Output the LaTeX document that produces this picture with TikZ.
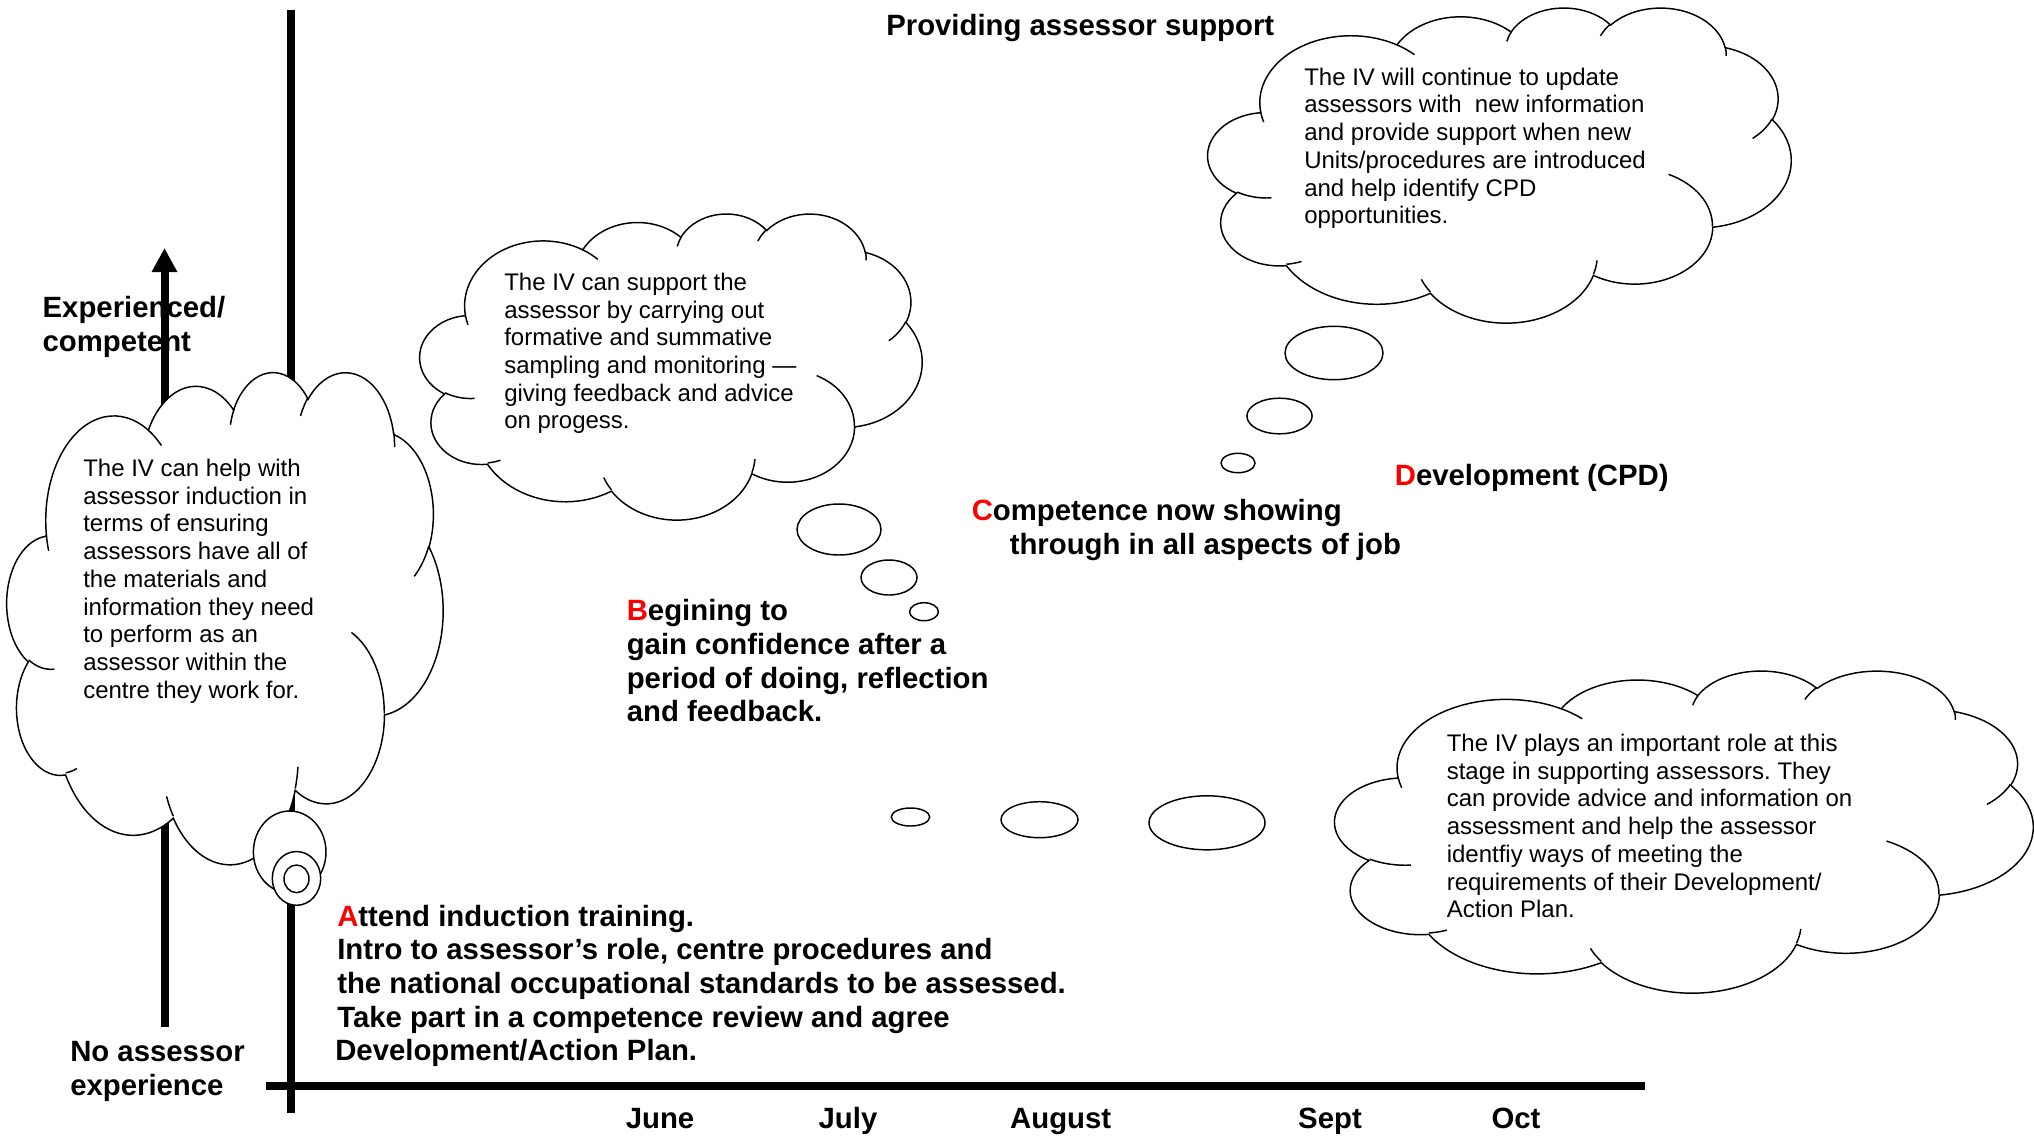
\documentclass[tikz,border=0pt]{standalone}
\usepackage{fontspec}
\setmainfont{Liberation Sans}
\usetikzlibrary{arrows.meta}
\frenchspacing

\tikzset{
  axisline/.style={line width=6pt},
  outline/.style={line width=1.1pt, draw=black, fill=white},
  stub/.style={line width=1.1pt, draw=black},
  cloudtext/.style={anchor=north west, inner sep=0pt, align=left,
    font=\fontsize{18}{20.8}\selectfont},
  steplabel/.style={anchor=north west, inner sep=0pt, align=left,
    font=\bfseries\fontsize{22}{25.2}\selectfont},
  axislabel/.style={inner sep=0pt, font=\bfseries\fontsize{22}{25.2}\selectfont},
}
% convert visual (ray) angles of an elliptic arc into parametric ones
\pgfkeys{/pgf/foreach/arcangles/.style={
  evaluate={\cSt as \cTs using atan2(\cRx*sin(\cSt),\cRy*cos(\cSt))},
  evaluate={\cSt as \cTe using atan2(\cRx*sin(\cSt+\cSw),\cRy*cos(\cSt+\cSw))},
  evaluate={\cSt as \cDt using \cTe-\cTs-360*round((\cTe-\cTs-\cSw)/360)}}}

% cloud outline designed in a 432 x 432 box, placed at (#1,#2) with size #3 x #4
\newcommand\cloudshape[4]{%
  \begin{scope}[shift={(#1,#2)}, xscale=#3/432, yscale=#4/432]
    \path[outline] (39,143.7)
      foreach \cRx/\cRy/\cSt/\cSw [arcangles] in {
        67.53/91.90/-190.4875/123.7805,
        53.33/72.67/-144.1024/89.9452,
        43.65/59.45/-145.8079/99.7230,
        48.57/65.95/-130.9861/117.2417,
        53.33/72.73/-78.7089/109.0269,
        67.75/92.20/-46.2673/130.2690,
        57.85/78.67/0.6250/114.0333,
        67.52/92.15/22.4516/115.1726,
        77.20/105.43/66.2426/75.7110,
        43.60/59.18/-274.9421/146.7356,
        43.45/59.45/-246.8285/152.5189}
      { arc[x radius=\cRx, y radius=\cRy, start angle=\cTs, delta angle=\cDt] }
      -- cycle;
    \path[stub]
      foreach \cPx/\cPy/\cRx/\cRy/\cSt/\cSw [arcangles] in {
        46.93/261.77/43.45/59.45/86.742/26.4295,
        69.28/348.99/43.60/59.18/73.6105/11.4475,
        164.78/390.90/67.52/92.15/137.6242/14.0811,
        288.27/347.51/67.52/92.15/6.4533/15.9984,
        341.29/229.54/57.85/78.67/-70.2924/70.9174,
        417.98/153.54/53.33/72.73/30.3180/27.7515,
        383.24/54.26/48.57/65.95/-13.7443/14.8524,
        290.78/39.52/48.57/65.95/-149.1815/18.1844,
        221.41/47.20/43.65/59.45/-163.4943/17.6973,
        140.00/51.92/67.53/91.90/-66.7070/12.3194,
        41.27/157.89/67.53/91.90/157.6544/11.8582}
      { (\cPx,\cPy) arc[x radius=\cRx, y radius=\cRy, start angle=\cTs, delta angle=\cDt] };
  \end{scope}}

\begin{document}
\begin{tikzpicture}[x=0.75pt, y=-0.75pt]
  % page
  \fill[white] (0,0) rectangle (2034,1136);
  \useasboundingbox (0,0) rectangle (2034,1136);

  % axes
  \coordinate (vtop) at (291,10);
  \coordinate (vbot) at (291,1113);
  \coordinate (hleft) at (266,1086);
  \coordinate (hright) at (1645,1086);
  \draw[axisline] (vtop) -- (vbot);
  \draw[axisline] (hleft) -- (hright);

  % experience arrow
  \coordinate (arrlow) at (164.5,1027);
  \coordinate (arrhigh) at (164.5,248);
  \node[axislabel, anchor=north west, align=left] (experienced) at (42.4,294)
    {\strut Experienced/\\competent};
  \draw[line width=6pt, -{Triangle[width=18pt,length=18pt]}] (arrlow) -- (arrhigh);
  \node[axislabel, anchor=north west, align=left] (noexp) at (70,1038)
    {\strut No assessor\\experience};

  % title and months
  \node[axislabel, anchor=base west] (title) at (886,35) {Providing assessor support};
  \node[axislabel, anchor=base] (june) at (660,1128.5) {June};
  \node[axislabel, anchor=base] (july) at (848,1128.5) {July};
  \node[axislabel, anchor=base] (august) at (1060.7,1128.5) {August};
  \node[axislabel, anchor=base] (sept) at (1330,1128.5) {Sept};
  \node[axislabel, anchor=base] (oct) at (1516,1128.5) {Oct};

  % clouds
  \cloudshape{7}{371}{436}{492}
  \cloudshape{420}{213}{502}{306}
  \cloudshape{1208}{7}{583}{315}
  \cloudshape{1335}{670}{698}{322}

  % thought bubbles
  \path[outline] (289.7,852) ellipse[x radius=36.3, y radius=41];
  \path[outline] (296.5,878.4) ellipse[x radius=24.2, y radius=26.9];
  \path[outline] (296.5,878.8) ellipse[x radius=12.5, y radius=13.8];

  \path[outline] (839,529.5) ellipse[x radius=42, y radius=25.5];
  \path[outline] (889,577.5) ellipse[x radius=28, y radius=17.5];
  \path[outline] (924,611.7) ellipse[x radius=14.4, y radius=9];

  \path[outline] (1334,353) ellipse[x radius=49, y radius=26.7];
  \path[outline] (1279.5,416) ellipse[x radius=32.6, y radius=17.8];
  \path[outline] (1238,463) ellipse[x radius=17, y radius=9.7];

  \path[outline] (910.5,817) ellipse[x radius=19.2, y radius=9];
  \path[outline] (1039.5,819.7) ellipse[x radius=38.5, y radius=18];
  \path[outline] (1207,822.8) ellipse[x radius=58, y radius=27];

  % cloud texts
  \node[cloudtext] (induction) at (83,456.8) {\strut The IV can help with\\
    assessor induction in\\
    terms of ensuring\\
    assessors have all of\\
    the materials and\\
    information they need\\
    to perform as an\\
    assessor within the\\
    centre they work for.};
  \node[cloudtext] (sampling) at (504,270.6) {\strut The IV can support the\\
    assessor by carrying out\\
    formative and summative\\
    sampling and monitoring —\\
    giving feedback and advice\\
    on progess.};
  \node[cloudtext] (updating) at (1304,65.4) {\strut The IV will continue to update\\
    assessors with\ \ new information\\
    and provide support when new\\
    Units/procedures are introduced\\
    and help identify CPD\\
    opportunities.};
  \node[cloudtext] (supporting) at (1446.5,731.8) {\strut The IV plays an important role at this\\
    stage in supporting assessors. They\\
    can provide advice and information on\\
    assessment and help the assessor\\
    identfiy ways of meeting the\\
    requirements of their Development/\\
    Action Plan.};

  % stages
  \node[steplabel] (stageA) at (337,902.5) {\strut\textcolor{red}{A}ttend induction training.\\
    Intro to assessor’s role, centre procedures and\\
    the national occupational standards to be assessed.\\
    Take part in a competence review and agree\\
    \kern-1.5pt Development/Action Plan.};
  \node[steplabel] (stageB) at (626.5,597) {\strut\textcolor{red}{B}egining to\\
    gain confidence after a\\
    period of doing, reflection\\
    and feedback.};
  \node[steplabel] (stageC) at (971.5,497) {\strut\textcolor{red}{C}ompetence now showing\\
    \hspace*{28.5pt}through in all aspects of job};
  \node[axislabel, anchor=base west] (stageD) at (1394.6,485.5) {\textcolor{red}{D}evelopment (CPD)};
\end{tikzpicture}
\end{document}
